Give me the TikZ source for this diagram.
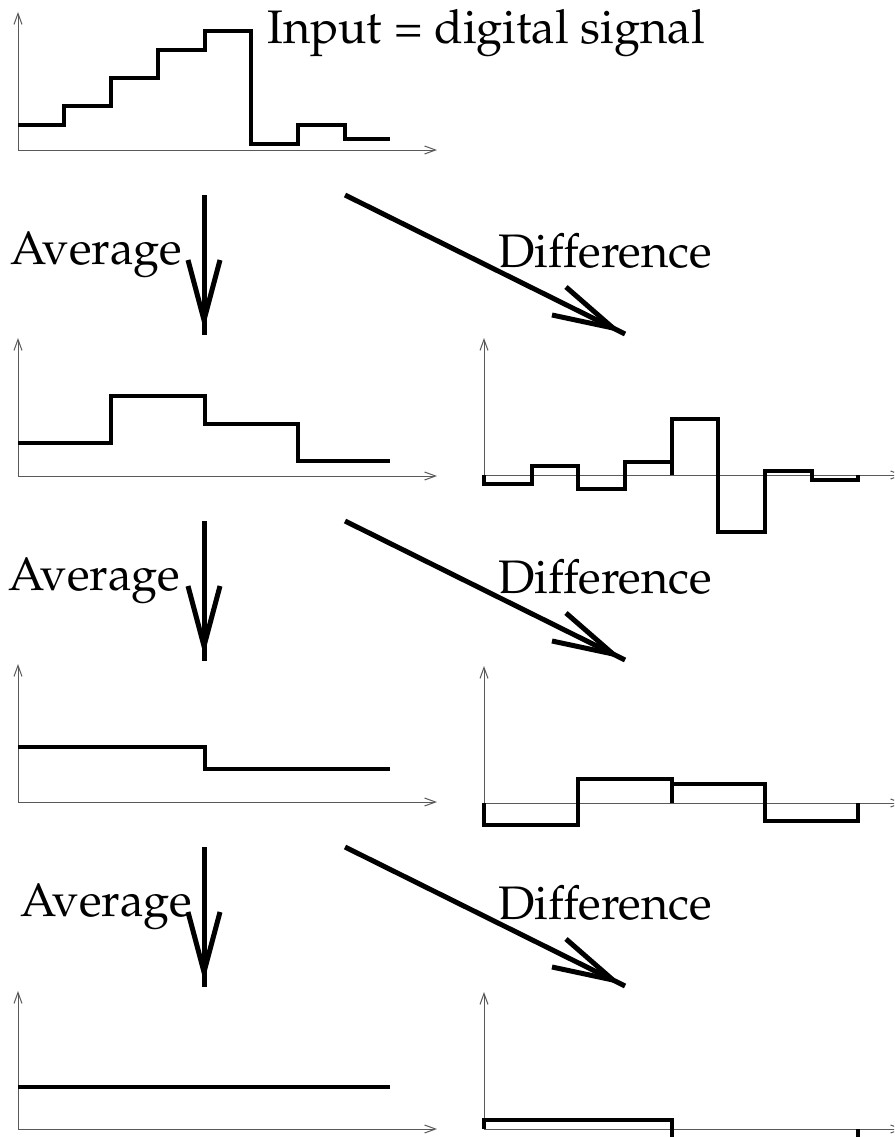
\documentclass[tikz,border=0pt]{standalone}
\usepackage[T1]{fontenc}
\usepackage{mathpazo}
\usetikzlibrary{arrows.meta}
\begin{document}
\begin{tikzpicture}[x=1pt,y=-1pt,
  axis/.style={draw=black!65, line width=1pt, -{Straight Barb[length=11pt,width=8pt]}},
  sig/.style={draw=black, line width=3.5pt, line join=miter},
  bigarrow/.style={draw=black, line width=5pt},
  lab/.style={inner sep=0pt, font=\fontsize{47}{50}\selectfont}]
\useasboundingbox (0,0) rectangle (894,1137);
\clip (0,0) rectangle (894,1137);

% ---- axes (left column) ----
\foreach \n/\a in {0/150,1/476,2/802,3/1129}{
  \coordinate (lo\n) at (18,\a);
  \coordinate (ly\n) at (18,\a-138);
  \coordinate (lx\n) at (437,\a);
  \draw[axis] (lo\n) -- (ly\n);
  \draw[axis] (lo\n) -- (lx\n);
}
% ---- axes (right column) ----
\foreach \n/\a in {1/475,2/803,3/1129}{
  \coordinate (ro\n) at (484,\a);
  \coordinate (ry\n) at (484,\a-137);
  \coordinate (rx\n) at (903,\a);
  \draw[axis] (ro\n) -- (ry\n);
  \draw[axis] (ro\n) -- (rx\n);
}

% ---- signals ----
\draw[sig] (18,125) -- (64,125) -- (64,106) -- (111,106) -- (111,78) -- (158,78)
  -- (158,50) -- (205,50) -- (205,31) -- (251,31) -- (251,144) -- (298,144)
  -- (298,125) -- (345,125) -- (345,139) -- (390,139);
\draw[sig] (18,443) -- (111,443) -- (111,396) -- (205,396) -- (205,424) -- (298,424)
  -- (298,461) -- (390,461);
\draw[sig] (18,747) -- (205,747) -- (205,769) -- (390,769);
\draw[sig] (18,1087) -- (390,1087);

\draw[sig] (484,475) -- (484,484) -- (532,484) -- (532,466) -- (578,466) -- (578,489)
  -- (625,489) -- (625,462) -- (672,462) -- (672,475);
\draw[sig] (672,475) -- (672,419) -- (718,419) -- (718,532) -- (765,532) -- (765,471)
  -- (812,471) -- (812,480) -- (858,480) -- (858,475);
\draw[sig] (484,803) -- (484,825) -- (578,825) -- (578,779) -- (672,779) -- (672,803);
\draw[sig] (672,803) -- (672,784) -- (765,784) -- (765,821) -- (858,821) -- (858,803);
\draw[sig] (484,1129) -- (484,1120) -- (672,1120) -- (672,1129);
\draw[sig] (672,1129) -- (672,1141) -- (858,1141) -- (858,1129);

% ---- big arrows ----
\foreach \k in {0,1,2}{
  \pgfmathsetmacro{\o}{326*\k}
  \coordinate (va\k) at (204,195+\o);
  \coordinate (vb\k) at (204,335+\o);
  \coordinate (vt\k) at (204,320+\o);
  \coordinate (vl\k) at (188,260+\o);
  \coordinate (vr\k) at (220,260+\o);
  \draw[bigarrow] (va\k) -- (vb\k);
  \draw[bigarrow] (vl\k) -- (vt\k) -- (vr\k);
  \coordinate (da\k) at (345,195+\o);
  \coordinate (db\k) at (625,334+\o);
  \coordinate (dt\k) at (613,328+\o);
  \coordinate (dl\k) at (566,287+\o);
  \coordinate (dr\k) at (552,315+\o);
  \draw[bigarrow] (da\k) -- (db\k);
  \draw[bigarrow] (dl\k) -- (dt\k) -- (dr\k);
}

% ---- labels ----
\node[lab, anchor=base west] (input) at (267,44) {Input = digital signal};
\node[lab, anchor=base west] (avg0) at (10,264) {Average};
\node[lab, anchor=base west] (avg1) at (8,590) {Average};
\node[lab, anchor=base west] (avg2) at (20,916) {Average};
\node[lab, anchor=base west] (dif0) at (498,267) {Difference};
\node[lab, anchor=base west] (dif1) at (498,593) {Difference};
\node[lab, anchor=base west] (dif2) at (498,919) {Difference};
\end{tikzpicture}
\end{document}
